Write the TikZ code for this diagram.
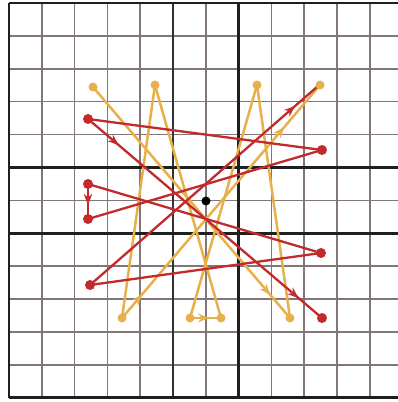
\documentclass[tikz,border=0pt]{standalone}
\usetikzlibrary{arrows.meta,decorations.markings}
\definecolor{ylw}{HTML}{E8B04A}
\definecolor{rd}{HTML}{C22A2C}
\definecolor{gridc}{HTML}{827679}
\begin{document}
\begin{tikzpicture}[x=1pt,y=-1pt,
  thinline/.style={gridc,line width=1.5pt},
  midline/.style={black!80,line width=2.1pt},
  thickline/.style={black!88,line width=2.9pt},
  ypath/.style={ylw,line width=2.5pt},
  rpath/.style={rd,line width=2.3pt},
  ydot/.style={circle,fill=ylw,inner sep=0pt,minimum size=9pt},
  rdot/.style={circle,fill=rd,inner sep=0pt,minimum size=10pt},
  pt/.style={inner sep=0pt,minimum size=0pt},
  arrA/.style={postaction={decorate},decoration={markings,mark=at position #1 with {\arrow{Stealth[length=11pt,width=8.5pt]}}}},
  arrB/.style 2 args={postaction={decorate},decoration={markings,
     mark=at position #1 with {\arrow{Stealth[length=11pt,width=8.5pt]}},
     mark=at position #2 with {\arrow{Stealth[length=11pt,width=8.5pt]}}}}
]
\useasboundingbox (0,0) rectangle (398,402);
\fill[white] (0,0) rectangle (398,402);
% grid
\foreach \k in {1,2,3,4,6,8,9,10,11} \draw[thinline] ({9+32.8*\k},3) -- ({9+32.8*\k},398);
\foreach \k in {1,2,3,4,6,8,9,10,11} \draw[thinline] (9,{3+32.9*\k}) -- (398,{3+32.9*\k});
\draw[midline] ({9+32.8*5},3) -- ({9+32.8*5},398);
\foreach \k in {0,7} \draw[thickline] ({9+32.8*\k},3) -- ({9+32.8*\k},398);
\foreach \k in {0,5,7,12} \draw[thickline] (9,{3+32.9*\k}) -- (398,{3+32.9*\k});
% points
\node[pt] (y1) at (93,87) {};
\node[pt] (y2) at (155,85) {};
\node[pt] (y3) at (257,85) {};
\node[pt] (y4) at (320,85) {};
\node[pt] (y5) at (122,318) {};
\node[pt] (y6) at (190,318) {};
\node[pt] (y7) at (221,318) {};
\node[pt] (y8) at (290,318) {};
\node[pt] (r1) at (88,119) {};
\node[pt] (r2) at (322,150) {};
\node[pt] (r3) at (88,184) {};
\node[pt] (r4) at (88,219) {};
\node[pt] (r5) at (321,253) {};
\node[pt] (r6) at (90,285) {};
\node[pt] (r7) at (318,86) {};
\node[pt] (r8) at (322,318) {};
% yellow path
\draw[ypath,arrA=0.9] (y1) -- (y8);
\draw[ypath] (y8) -- (y3);
\draw[ypath] (y3) -- (y6);
\draw[ypath,arrA=0.62] (y6) -- (y7);
\draw[ypath] (y7) -- (y2);
\draw[ypath] (y2) -- (y5);
\draw[ypath,arrB={0.1}{0.82}] (y5) -- (y4);
% red path
\draw[rpath,arrB={0.13}{0.9}] (r1) -- (r8);
\draw[rpath] (r1) -- (r2);
\draw[rpath] (r2) -- (r4);
\draw[rpath,arrA=0.6] (r3) -- (r4);
\draw[rpath] (r3) -- (r5);
\draw[rpath] (r5) -- (r6);
\draw[rpath,arrA=0.9] (r6) -- (r7);
% dots
\foreach \n in {y1,y2,y3,y4,y5,y6,y7,y8} \node[ydot] at (\n) {};
\foreach \n in {r1,r2,r3,r4,r5,r6,r8} \node[rdot] at (\n) {};
\node[circle,fill=black,inner sep=0pt,minimum size=9pt] (c) at (206,201) {};
\end{tikzpicture}
\end{document}
